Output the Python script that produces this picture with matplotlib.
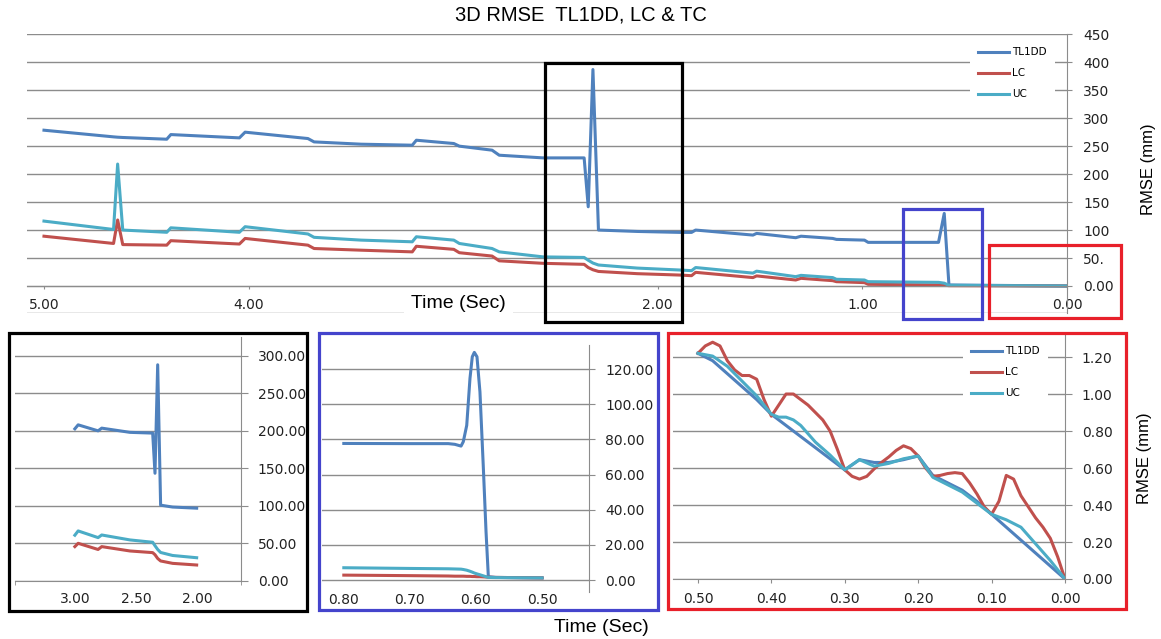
import matplotlib.pyplot as plt
from matplotlib.patches import Rectangle

# ---- main chart (5.0 s -> 0.0 s) ----
t_main = [5.00, 4.66, 4.64, 4.615, 4.40, 4.38, 4.045, 4.017, 3.71, 3.68, 3.45,
          3.20, 3.18, 2.997, 2.97, 2.81, 2.775, 2.56, 2.36, 2.34, 2.317, 2.29,
          2.10, 1.89, 1.835, 1.815, 1.535, 1.517, 1.326, 1.30, 1.145, 1.127,
          0.99, 0.972, 0.628, 0.60, 0.577, 0.00]
tl1dd_main = [278.5, 266.6, 266.0, 265.5, 262.4, 270.7, 264.8, 275.0, 263.6, 257.6, 253.5,
              251.7, 260.6, 254.7, 250.0, 242.8, 233.8, 229.0, 229.0, 141.6, 387.0, 100.0,
              97.5, 95.8, 95.8, 100.0, 91.0, 94.0, 86.3, 89.0, 85.0, 83.3,
              82.0, 78.0, 78.0, 129.7, 1.8, 0.0]
lc_main = [89.0, 76.0, 118.0, 74.0, 73.0, 81.0, 75.0, 85.0, 73.0, 67.0, 64.0,
           61.0, 71.0, 65.5, 59.5, 53.5, 45.0, 40.5, 38.7, 33.0, 29.0, 26.0,
           22.0, 19.5, 18.4, 24.4, 15.0, 18.0, 10.7, 13.7, 9.5, 7.7,
           6.0, 3.0, 1.8, 1.5, 0.6, 0.0]
uc_main = [116.0, 101.0, 218.0, 100.0, 96.0, 104.0, 96.0, 106.0, 93.0, 87.0, 82.0,
           79.0, 88.0, 82.0, 76.0, 67.0, 61.0, 52.0, 51.0, 46.0, 41.0, 37.5,
           32.0, 28.5, 27.4, 33.0, 23.0, 26.5, 16.7, 19.0, 15.0, 12.0,
           10.7, 7.7, 6.5, 5.0, 1.2, 0.0]
main_yticks = [0, 50, 100, 150, 200, 250, 300, 350, 400, 450]
main_ylabels = ['0.00', '50.', '100', '150', '200', '250', '300', '350', '400', '450']
main_xticks = [5, 4, 2, 1, 0]
main_xlabels = ['5.00', '4.00', '2.00', '1.00', '0.00']

# ---- zoom 1 (black) ----
t_z1 = [3.00, 2.973, 2.81, 2.78, 2.549, 2.363, 2.344, 2.322, 2.298, 2.20, 2.003]
tl1dd_z1 = [202.7, 208.0, 200.0, 203.6, 198.0, 197.0, 143.5, 288.0, 101.0, 98.5, 97.0]
lc_z1 = [45.8, 50.2, 42.0, 45.8, 40.0, 37.8, 35.0, 30.0, 26.7, 23.5, 21.3]
uc_z1 = [61.0, 66.7, 57.8, 61.3, 54.7, 51.6, 47.0, 42.0, 38.0, 34.0, 31.0]

# ---- zoom 2 (blue) ----
t_z2 = [0.80, 0.70, 0.642, 0.632, 0.6226, 0.6192, 0.614, 0.6091, 0.6056, 0.6025,
        0.5985, 0.594, 0.589, 0.5848, 0.5813, 0.57, 0.50]
tl1dd_z2 = [77.7, 77.6, 77.6, 77.2, 76.2, 78.7, 88.0, 114.7, 127.0, 129.5,
            127.0, 107.0, 65.0, 27.5, 1.9, 1.5, 1.22]
lc_z2 = [2.8, 2.5, 2.3, 2.2, 2.2, 2.2, 2.1, 2.1, 2.0, 2.0,
         1.9, 1.9, 1.8, 1.7, 1.6, 1.5, 1.22]
uc_z2 = [7.0, 6.6, 6.4, 6.3, 6.2, 6.0, 5.6, 5.0, 4.5, 4.0,
         3.5, 3.0, 2.4, 1.9, 1.5, 1.4, 1.22]

# ---- zoom 3 (red) ----
t_z3a = [0.50, 0.48, 0.46, 0.44, 0.42, 0.40, 0.39, 0.38, 0.37, 0.36, 0.34, 0.32, 0.30,
         0.28, 0.26, 0.24, 0.22, 0.20, 0.18, 0.16, 0.14, 0.12, 0.10,
         0.08, 0.06, 0.04, 0.02, 0.00]
tl1dd_z3 = [1.22, 1.18, 1.11, 1.04, 0.97, 0.89, 0.86, 0.83, 0.80, 0.77, 0.71, 0.65, 0.59,
            0.645, 0.63, 0.63, 0.645, 0.665, 0.56, 0.52, 0.48, 0.42, 0.35,
            0.28, 0.21, 0.14, 0.07, 0.00]
uc_z3 = [1.22, 1.205, 1.15, 1.07, 0.99, 0.89, 0.875, 0.875, 0.86, 0.83, 0.74, 0.67, 0.59,
         0.645, 0.61, 0.625, 0.65, 0.665, 0.55, 0.51, 0.47, 0.41, 0.35,
         0.32, 0.28, 0.19, 0.10, 0.00]
t_z3b = [0.50, 0.49, 0.48, 0.47, 0.46, 0.45, 0.44, 0.43, 0.42, 0.41, 0.40,
         0.39, 0.38, 0.37, 0.36, 0.35, 0.34, 0.33, 0.32, 0.31, 0.30,
         0.29, 0.28, 0.27, 0.26, 0.25, 0.24, 0.23, 0.22, 0.21, 0.20,
         0.19, 0.18, 0.17, 0.16, 0.15, 0.14, 0.13, 0.12, 0.11, 0.10,
         0.09, 0.08, 0.07, 0.06, 0.05, 0.04, 0.03, 0.02, 0.01, 0.00]
lc_z3 = [1.22, 1.26, 1.28, 1.26, 1.18, 1.13, 1.10, 1.10, 1.08, 0.97, 0.88,
         0.94, 1.00, 1.00, 0.97, 0.94, 0.90, 0.86, 0.80, 0.70, 0.59,
         0.555, 0.54, 0.555, 0.595, 0.63, 0.66, 0.695, 0.72, 0.705, 0.665,
         0.60, 0.555, 0.56, 0.57, 0.575, 0.57, 0.52, 0.46, 0.39, 0.35,
         0.42, 0.56, 0.54, 0.45, 0.39, 0.33, 0.28, 0.22, 0.12, 0.00]

series_names = ['TL1DD', 'LC', 'UC']
colors = ['#4f81bd', '#c0504d', '#4bacc6']

W, H = 1161, 639
GRID = '#8c8c8c'
TICKC = '#222222'
LW = 2.2
TICKSIZE = 10

plt.rcParams['font.family'] = ['DejaVu Sans']
fig = plt.figure(figsize=(W / 100, H / 100), dpi=100)


def axes_px(x0, y0, x1, y1):
    return fig.add_axes([x0 / W, 1 - y1 / H, (x1 - x0) / W, (y1 - y0) / H])


def frame_px(x0, y0, x1, y1, color):
    fig.add_artist(Rectangle((x0 / W, 1 - y1 / H), (x1 - x0) / W, (y1 - y0) / H,
                             transform=fig.transFigure, fill=False, lw=2.3,
                             ec=color, zorder=20))


def style(ax, yticks, ylabels, tlen, pad):
    ax.set_yticks(yticks)
    ax.set_yticklabels(ylabels)
    ax.yaxis.tick_right()
    ax.grid(axis='y', color=GRID, lw=1)
    ax.set_axisbelow(True)
    ax.spines['left'].set_visible(False)
    ax.spines['top'].set_visible(False)
    ax.spines['right'].set_color(GRID)
    ax.spines['bottom'].set_color(GRID)
    ax.tick_params(axis='y', right=True, length=tlen, color=GRID, pad=pad,
                   labelsize=TICKSIZE, labelcolor=TICKC)
    ax.tick_params(axis='x', labelsize=TICKSIZE, labelcolor=TICKC, color=GRID)
    for lab in ax.get_yticklabels():
        lab.set_horizontalalignment('left')


def draw(ax, t, ys):
    for tt, y, c, n in zip(t, ys, colors, series_names):
        ax.plot(tt, y, color=c, lw=LW, label=n, solid_joinstyle='round')


def legend(ax, x, y):
    ax.legend(loc='upper left', bbox_to_anchor=(x / W, 1 - y / H),
              bbox_transform=fig.transFigure, fontsize=7.5, handlelength=2.9,
              handletextpad=0.3, labelspacing=1.05, borderpad=0.8,
              borderaxespad=0, frameon=True, facecolor='white', edgecolor='none',
              framealpha=1, fancybox=False)


# main chart
ax = axes_px(27, 34, 1067, 313)
draw(ax, [t_main] * 3, [tl1dd_main, lc_main, uc_main])
ax.set_xlim(5.083, 0)
ax.set_ylim(-48.3, 450.5)
style(ax, main_yticks, main_ylabels, 3.6, 8)
ax.spines['bottom'].set_position(('data', 0))
ax.set_xticks(main_xticks)
ax.set_xticklabels(main_xlabels)
ax.tick_params(axis='x', direction='out', length=2.5, pad=6)
ax.axhline(-48, color=GRID, lw=1, zorder=1)
ax.text(2.975, -31, 'Time (Sec)', ha='center', va='center', fontsize=14,
        family='Liberation Sans', color='black', zorder=10,
        bbox=dict(fc='white', ec='none', pad=5))
legend(ax, 970, 39)

# zoom 1
ax1 = axes_px(15, 337, 241, 581)
draw(ax1, [t_z1] * 3, [tl1dd_z1, lc_z1, uc_z1])
ax1.set_xlim(3.49, 1.64)
ax1.set_ylim(0, 325)
style(ax1, [0, 50, 100, 150, 200, 250, 300],
      ['%.2f' % v for v in [0, 50, 100, 150, 200, 250, 300]], 5, 7)
ax1.set_xticks([3.0, 2.5, 2.0])
ax1.set_xticklabels(['3.00', '2.50', '2.00'])
ax1.set_xticks([3.49, 1.64], minor=True)
ax1.tick_params(axis='x', which='major', length=0, pad=8)
ax1.tick_params(axis='x', which='minor', length=3, color=GRID)

# zoom 2
ax2 = axes_px(322, 345, 589, 592)
draw(ax2, [t_z2] * 3, [tl1dd_z2, lc_z2, uc_z2])
ax2.set_xlim(0.833, 0.429)
ax2.set_ylim(-6.8, 133.7)
style(ax2, [0, 20, 40, 60, 80, 100, 120],
      ['%.2f' % v for v in [0, 20, 40, 60, 80, 100, 120]], 4.5, 7)
ax2.spines['bottom'].set_visible(False)
ax2.set_xticks([0.8, 0.7, 0.6, 0.5])
ax2.set_xticklabels(['0.80', '0.70', '0.60', '0.50'])
ax2.tick_params(axis='x', length=0, pad=1)

# zoom 3
ax3 = axes_px(673, 335, 1065, 579)
draw(ax3, [t_z3a, t_z3b, t_z3a], [tl1dd_z3, lc_z3, uc_z3])
ax3.set_xlim(0.534, 0.0)
ax3.set_ylim(0, 1.319)
style(ax3, [0, 0.2, 0.4, 0.6, 0.8, 1.0, 1.2],
      ['%.2f' % v for v in [0, 0.2, 0.4, 0.6, 0.8, 1.0, 1.2]], 5, 7)
ax3.set_xticks([0.5, 0.4, 0.3, 0.2, 0.1, 0.0])
ax3.set_xticklabels(['0.50', '0.40', '0.30', '0.20', '0.10', '0.00'])
ax3.tick_params(axis='x', direction='out', length=3, pad=6.5)
legend(ax3, 963, 338)

# texts
fig.text(581 / W, 1 - 15 / H, '3D RMSE  TL1DD, LC & TC', ha='center', va='center',
         fontsize=14.5, family='Liberation Sans')
fig.text(1149 / W, 1 - 169 / H, 'RMSE (mm)', ha='center', va='center', rotation=90,
         fontsize=12, family='Liberation Sans')
fig.text(1145 / W, 1 - 458 / H, 'RMSE (mm)', ha='center', va='center', rotation=90,
         fontsize=12, family='Liberation Sans')
fig.text(601 / W, 1 - 627 / H, 'Time (Sec)', ha='center', va='center',
         fontsize=14, family='Liberation Sans')

# highlight boxes on the main chart and frames round the zooms
frame_px(545, 63, 682, 322, 'black')
frame_px(903, 209, 982, 319, '#4444cc')
frame_px(989, 245, 1121, 318, '#e8202a')
frame_px(9, 333, 307, 611, 'black')
frame_px(319, 333, 658, 610, '#4444cc')
frame_px(668, 333, 1126, 609, '#e8202a')

fig.savefig('out.png', dpi=100)
